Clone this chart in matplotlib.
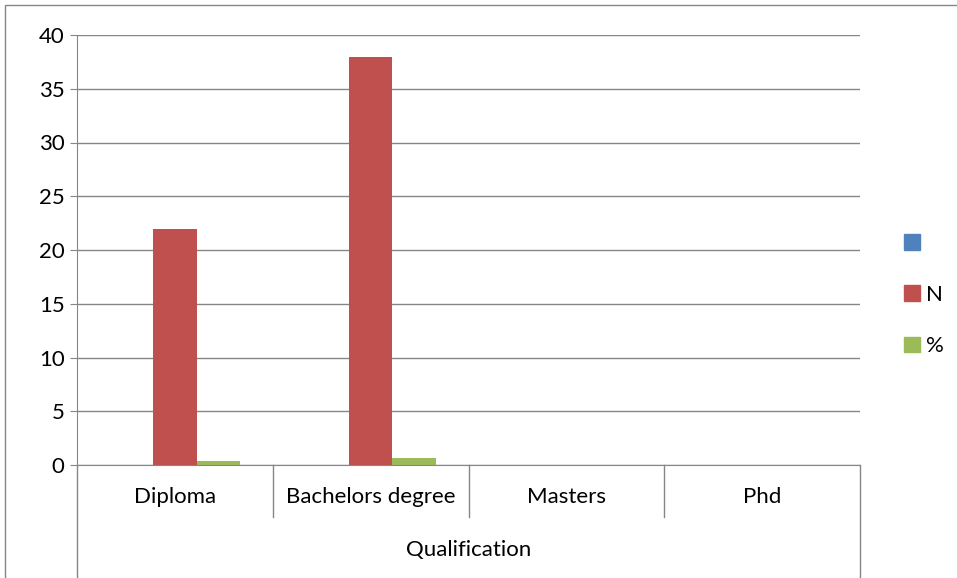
import matplotlib
matplotlib.use("Agg")
import matplotlib.pyplot as plt
from matplotlib.lines import Line2D
from matplotlib.patches import Rectangle
import numpy as np

categories = ["Diploma", "Bachelors degree", "Masters", "Phd"]
series_names = ["", "N", "%"]
blank_vals = [0, 0, 0, 0]
n_vals = [22, 38, 0, 0]
pct_vals = [0.37, 0.63, 0, 0]
colors = ["#4F81BD", "#C0504D", "#9BBB59"]
group_label = "Qualification"
yticks = [0, 5, 10, 15, 20, 25, 30, 35, 40]

plt.rcParams['font.family'] = ['Lato', 'DejaVu Sans']
FS = 16

W, H = 957, 578
fig = plt.figure(figsize=(W/100, H/100), dpi=100)
L, R, T, B = 77, 860, 35, 465
ax = fig.add_axes([L/W, 1-B/H, (R-L)/W, (B-T)/H])

x = np.arange(len(categories))
bw = 0.222
series = [blank_vals, n_vals, pct_vals]
for i, (vals, c) in enumerate(zip(series, colors)):
    ax.bar(x + (i-1)*bw, vals, bw, color=c, label=series_names[i], zorder=3)

ax.set_xlim(-0.5, len(categories)-0.5)
ax.set_ylim(0, 40)
ax.set_yticks(yticks)
ax.tick_params(axis='y', labelsize=FS, length=5, color='#868686', direction='out', pad=4)
ax.set_xticks([])
ax.yaxis.grid(True, color='#868686', linewidth=1.0, zorder=0)
for s in ['top', 'right']:
    ax.spines[s].set_visible(False)
ax.spines['left'].set_color('#868686')
ax.spines['bottom'].set_color('#868686')
ax.spines['bottom'].set_zorder(4)

trans = ax.get_xaxis_transform()
sep_bottom_px = 517
full_bottom_px = 578
def frac(px):
    return (B - px) / (B - T)
for k in range(len(categories)+1):
    xk = k - 0.5
    yb = frac(full_bottom_px) if k in (0, len(categories)) else frac(sep_bottom_px)
    ax.add_line(Line2D([xk, xk], [0, yb], transform=trans, color='#868686',
                       linewidth=1.0, clip_on=False))
for k, c in enumerate(categories):
    ax.text(k, frac(497), c, transform=trans, ha='center', va='center', fontsize=FS)
ax.text(1.5, frac(550), group_label, transform=trans, ha='center', va='center', fontsize=FS)

fig.legend(handles=[Rectangle((0, 0), 1, 1, color=c) for c in colors],
           labels=series_names, loc='center left',
           bbox_to_anchor=(884/W, 1-295/H), frameon=False, fontsize=FS,
           handlelength=0.7, handleheight=0.7, labelspacing=1.4, handletextpad=0.3)

fig.add_artist(Rectangle((5/W, -0.05), 1.0, 1-5/H+0.05, transform=fig.transFigure,
                         fill=False, edgecolor='#868686', linewidth=1.0))

fig.savefig("out.png", dpi=100)
